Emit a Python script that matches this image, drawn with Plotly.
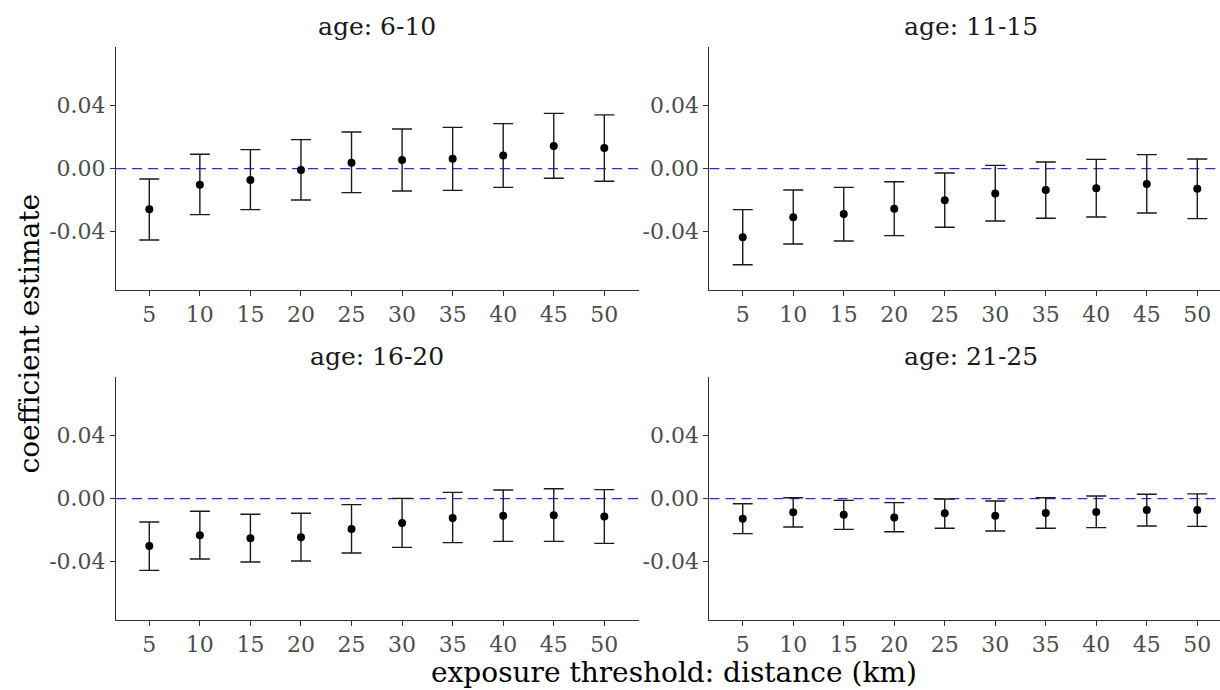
import plotly.graph_objects as go

distance = [5, 10, 15, 20, 25, 30, 35, 40, 45, 50]
x_tick_labels = ["5", "10", "15", "20", "25", "30", "35", "40", "45", "50"]
y_tick_values = [-0.04, 0.0, 0.04]
y_tick_labels = ["-0.04", "0.00", "0.04"]

panel_titles = ["age: 6-10", "age: 11-15", "age: 16-20", "age: 21-25"]

est_6_10 = [-0.0258, -0.0102, -0.0072, -0.0008, 0.0038, 0.0055, 0.0063, 0.0083, 0.0144, 0.0131]
hi_6_10 = [-0.0066, 0.0091, 0.0121, 0.0184, 0.0233, 0.0252, 0.0262, 0.0286, 0.0351, 0.0341]
lo_6_10 = [-0.0453, -0.0292, -0.0260, -0.0199, -0.0152, -0.0142, -0.0138, -0.0119, -0.0061, -0.0080]

est_11_15 = [-0.0436, -0.0309, -0.0288, -0.0254, -0.0201, -0.0157, -0.0135, -0.0125, -0.0097, -0.0127]
hi_11_15 = [-0.0260, -0.0135, -0.0119, -0.0083, -0.0028, 0.0021, 0.0042, 0.0059, 0.0089, 0.0061]
lo_11_15 = [-0.0610, -0.0478, -0.0459, -0.0425, -0.0372, -0.0332, -0.0315, -0.0307, -0.0281, -0.0317]

est_16_20 = [-0.0300, -0.0233, -0.0252, -0.0245, -0.0193, -0.0155, -0.0123, -0.0108, -0.0106, -0.0114]
hi_16_20 = [-0.0148, -0.0080, -0.0099, -0.0093, -0.0038, 0.0002, 0.0040, 0.0055, 0.0063, 0.0057]
lo_16_20 = [-0.0455, -0.0383, -0.0402, -0.0396, -0.0345, -0.0309, -0.0279, -0.0271, -0.0271, -0.0284]

est_21_25 = [-0.0127, -0.0087, -0.0102, -0.0119, -0.0093, -0.0108, -0.0091, -0.0085, -0.0072, -0.0072]
hi_21_25 = [-0.0032, 0.0006, -0.0011, -0.0025, -0.0002, -0.0015, 0.0006, 0.0017, 0.0028, 0.0030]
lo_21_25 = [-0.0222, -0.0180, -0.0195, -0.0210, -0.0188, -0.0205, -0.0188, -0.0184, -0.0174, -0.0176]

panels = [
    (est_6_10, hi_6_10, lo_6_10),
    (est_11_15, hi_11_15, lo_11_15),
    (est_16_20, hi_16_20, lo_16_20),
    (est_21_25, hi_21_25, lo_21_25),
]

W, H = 1220, 690
FONT = "DejaVu Serif"

# pixel geometry of the panels (left, right, top, bottom)
geom = [
    (116.0, 638.7, 47.3, 290.0),
    (709.4, 1220.0, 47.3, 290.0),
    (116.0, 638.7, 377.3, 620.0),
    (709.4, 1220.0, 377.3, 620.0),
]
x_ranges = [[1.707, 53.40], [1.70, 52.25], [1.707, 53.40], [1.70, 52.25]]
title_centers = [377.3, 970.7, 377.3, 970.7]
title_y = [27.0, 27.0, 356.5, 356.5]

fig = go.Figure()
layout = {}
annotations = []
shapes = []
for i, (est, hi, lo) in enumerate(panels):
    n = i + 1
    xa = "x" if n == 1 else f"x{n}"
    ya = "y" if n == 1 else f"y{n}"
    plus = [h - e for h, e in zip(hi, est)]
    minus = [e - l for e, l in zip(est, lo)]
    fig.add_trace(go.Scatter(
        x=distance, y=est, mode="markers", xaxis=xa, yaxis=ya,
        marker=dict(color="black", size=8),
        error_y=dict(type="data", symmetric=False, array=plus, arrayminus=minus,
                     color="#1a1a1a", thickness=1.4, width=10),
        showlegend=False,
    ))
    l, r, t, b = geom[i]
    axis_common = dict(
        showline=True, linecolor="#333333", linewidth=1.1,
        ticks="outside", ticklen=5, tickwidth=1.1, tickcolor="#333333",
        showgrid=False, zeroline=False,
        tickfont=dict(family=FONT, size=22, color="#4d4d4d"),
    )
    layout[f"xaxis{'' if n == 1 else n}"] = dict(
        domain=[l / W, r / W], range=x_ranges[i], anchor=ya,
        tickvals=distance, ticktext=x_tick_labels, **axis_common)
    layout[f"yaxis{'' if n == 1 else n}"] = dict(
        domain=[1 - b / H, 1 - t / H], range=[-0.077, 0.077], anchor=xa,
        tickvals=y_tick_values, ticktext=y_tick_labels, **axis_common)
    shapes.append(dict(type="line", xref=f"{xa} domain", yref=ya, x0=0, x1=1, y0=0, y1=0,
                       line=dict(color="#2929ff", width=1.4, dash="10px,6px"), layer="below"))
    annotations.append(dict(text=panel_titles[i], xref="paper", yref="paper",
                            x=title_centers[i] / W, y=1 - title_y[i] / H,
                            xanchor="center", yanchor="middle", showarrow=False,
                            font=dict(family=FONT, size=25, color="#1a1a1a")))

annotations.append(dict(text="coefficient estimate", xref="paper", yref="paper",
                        x=29 / W, y=1 - 333.5 / H, textangle=-90,
                        xanchor="center", yanchor="middle", showarrow=False,
                        font=dict(family=FONT, size=28, color="black")))
annotations.append(dict(text="exposure threshold: distance (km)", xref="paper", yref="paper",
                        x=674 / W, y=1 - 672 / H,
                        xanchor="center", yanchor="middle", showarrow=False,
                        font=dict(family=FONT, size=28, color="black")))

fig.update_layout(
    width=W, height=H, margin=dict(l=0, r=0, t=0, b=0),
    paper_bgcolor="white", plot_bgcolor="white",
    annotations=annotations, shapes=shapes, **layout,
)
fig.write_html("out.html")
